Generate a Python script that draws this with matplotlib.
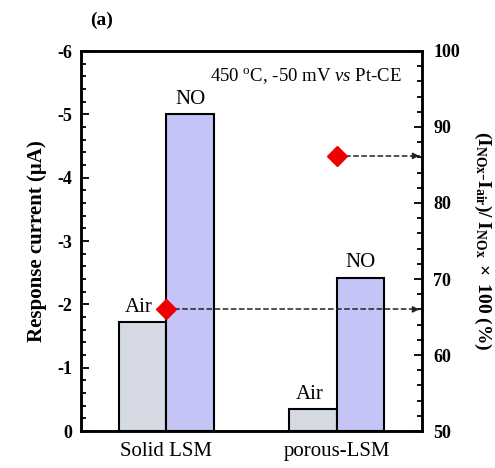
import numpy as np
import matplotlib
matplotlib.use('Agg')
from matplotlib import pyplot as plt
from matplotlib.ticker import MultipleLocator

plt.rcParams['font.family'] = ['Liberation Serif', 'DejaVu Serif']
plt.rcParams['mathtext.fontset'] = 'custom'
plt.rcParams['mathtext.rm'] = 'Liberation Serif'
plt.rcParams['mathtext.it'] = 'Liberation Serif:italic'
plt.rcParams['mathtext.bf'] = 'Liberation Serif:bold'
plt.rcParams['axes.unicode_minus'] = False

#Data
samples = ['Solid LSM', 'porous-LSM']
air_current = [-1.72, -0.34]
no_current = [-5.0, -2.42]
ratio = [66.0, 86.2]

fig = plt.figure(figsize=(4.95, 4.68), dpi=100)
ax = fig.add_axes([81/495, 37/468, 341/495, 380/468])

x = np.arange(len(samples))
w = 0.28
ax.bar(x - w/2, air_current, w, color='#d6dae4', edgecolor='black', linewidth=1.5, zorder=2)
ax.bar(x + w/2, no_current, w, color='#c4c4f6', edgecolor='black', linewidth=1.5, zorder=2)

for i in range(len(samples)):
    ax.annotate('Air', (x[i] - w/2 - 0.02, air_current[i]), xytext=(0, 4), textcoords='offset points',
                ha='center', va='bottom', fontsize=15)
    ax.annotate('NO', (x[i] + w/2, no_current[i]), xytext=(0, 4), textcoords='offset points',
                ha='center', va='bottom', fontsize=15)

ax.set_xlim(-0.5, 1.5)
ax.set_ylim(0, -6)
ax.set_xticks(x)
ax.set_xticklabels(samples, fontsize=15)
ax.tick_params(axis='x', length=0, pad=8)
ax.yaxis.set_major_locator(MultipleLocator(1))
ax.yaxis.set_minor_locator(MultipleLocator(0.2))
ax.tick_params(axis='y', which='both', direction='in', labelsize=13, width=1.3)
ax.tick_params(axis='y', which='major', length=6, pad=6)
ax.tick_params(axis='y', which='minor', length=3.5)
for lab in ax.get_yticklabels():
    lab.set_fontweight('bold')
ax.set_ylabel('Response current (\u03bcA)', fontsize=15, fontweight='bold', labelpad=8)
for s in ax.spines.values():
    s.set_linewidth(1.8)

ax2 = ax.twinx()
ax2.set_ylim(50, 100)
ax2.yaxis.set_major_locator(MultipleLocator(10))
ax2.yaxis.set_minor_locator(MultipleLocator(2))
ax2.tick_params(axis='y', which='both', direction='in', labelsize=13, width=1.3)
ax2.tick_params(axis='y', which='major', length=6, pad=8)
ax2.tick_params(axis='y', which='minor', length=3.5)
for lab in ax2.get_yticklabels():
    lab.set_fontweight('bold')
ax2.set_ylabel(r'$\mathbf{(I_{NOx}\text{-}I_{air})/\ I_{NOx}\ \times\ 100\ (\%)}$', fontsize=14,
               rotation=-90, labelpad=24)
for s in ax2.spines.values():
    s.set_linewidth(1.8)

for i in range(len(samples)):
    ax2.plot([x[i], 1.49], [ratio[i], ratio[i]], '--', color='#222222', lw=1.1, zorder=3)
    ax2.annotate('', xy=(1.5, ratio[i]), xytext=(1.46, ratio[i]),
                 arrowprops=dict(arrowstyle='-|>', color='#222222', lw=1.1, mutation_scale=9))
    ax2.plot(x[i], ratio[i], 'D', color='#ee0000', markersize=10, zorder=4)

ax.text(0.94, 0.935, r'450 $^{\rm o}$C, -50 mV $\it{vs}$ Pt-CE', transform=ax.transAxes,
        ha='right', va='center', fontsize=13.5)
fig.text(90/495, 1 - 20/468, '(a)', fontsize=14, fontweight='bold', va='center')

fig.savefig('out.png', dpi=100)
